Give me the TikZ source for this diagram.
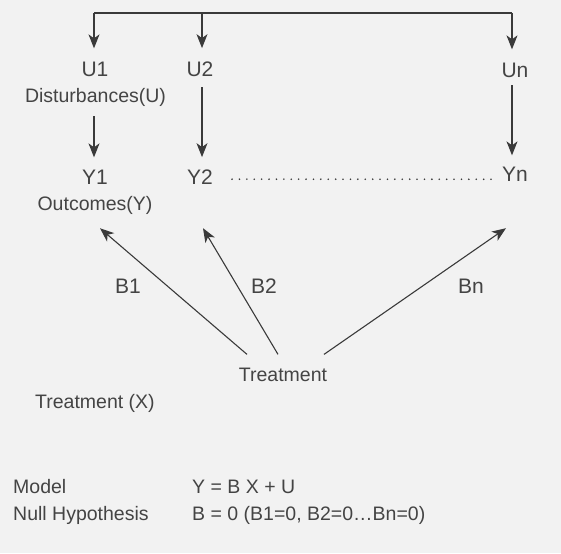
\documentclass[tikz,border=0pt]{standalone}
\usepackage{fontspec}
\setmainfont{Liberation Sans}
\usetikzlibrary{arrows.meta}
\definecolor{bg}{HTML}{F2F2F2}
\definecolor{ink}{HTML}{3A3A3A}
\definecolor{txt}{HTML}{444444}
\tikzset{
  big/.style={inner sep=0pt, anchor=base, text=txt, font=\fontsize{21}{24}\selectfont},
  small/.style={inner sep=0pt, anchor=base, text=txt, font=\fontsize{19.5}{22}\selectfont},
  smallw/.style={small, anchor=base west},
  conn/.style={draw=ink, line width=1.1pt},
  arr/.style={conn, -{Stealth[length=14pt, width=11pt, inset=4pt]}},
  dotline/.style={draw=ink, line width=1.8pt, line cap=round, dash pattern=on 0pt off 7.4pt}
}
\begin{document}
\begin{tikzpicture}[x=1pt, y=-1pt]
\fill[bg] (0,0) rectangle (561,553);
\useasboundingbox (0,0) rectangle (561,553);

% nodes
\node[big] (U1) at (95,77) {U1};
\node[big] (U2) at (200,77) {U2};
\node[big] (Un) at (515,78) {Un};
\node[small] (D) at (95.5,103) {Disturbances(U)};
\node[big] (Y1) at (95,185) {Y1};
\node[big] (Y2) at (200,185) {Y2};
\node[big] (Yn) at (515,182) {Yn};
\node[small] (O) at (95,210) {Outcomes(Y)};
\node[big] (B1) at (128,293) {B1};
\node[big] (B2) at (264,293) {B2};
\node[big] (Bn) at (471,293) {Bn};
\node[small] (T) at (283,381) {Treatment};
\node[smallw] (TX) at (35,408) {Treatment (X)};
\node[smallw] (M) at (13,493) {Model};
\node[smallw] (NH) at (13,520) {Null Hypothesis};
\node[smallw] (ME) at (192,493) {Y = B X + U};
\node[smallw] (NE) at (192,520) {B = 0 (B1=0, B2=0…Bn=0)};

% top distributor
\coordinate (c1) at (94,13);
\coordinate (c2) at (202,13);
\coordinate (cn) at (512,13);
\draw[conn] (c1) -- (cn);
\draw[arr, shorten >=14pt] (c1) -- (c1 |- U1.north);
\draw[arr, shorten >=14pt] (c2) -- (c2 |- U2.north);
\draw[arr, shorten >=14pt] (cn) -- (cn |- Un.north);

% disturbances to outcomes
\draw[arr, shorten <=9pt, shorten >=13pt] (c1 |- D.south) -- (c1 |- Y1.north);
\draw[arr, shorten <=10pt, shorten >=13pt] (c2 |- U2.south) -- (c2 |- Y2.north);
\draw[arr, shorten <=7pt, shorten >=12pt] (cn |- Un.south) -- (cn |- Yn.north);

% dotted row
\draw[dotline] ([shift={(19,1.5)}]Y2.east) -- ([shift={(-9,4.5)}]Yn.west);

% treatment effects
\draw[arr] ([shift={(-36,-13)}]T.north) -- ([shift={(5,14)}]O.south);
\draw[arr] ([shift={(-5,-13)}]T.north) -- ([shift={(3,43)}]Y2.south);
\draw[arr] ([shift={(41,-13)}]T.north) -- ([shift={(-9,46)}]Yn.south);
\end{tikzpicture}
\end{document}
